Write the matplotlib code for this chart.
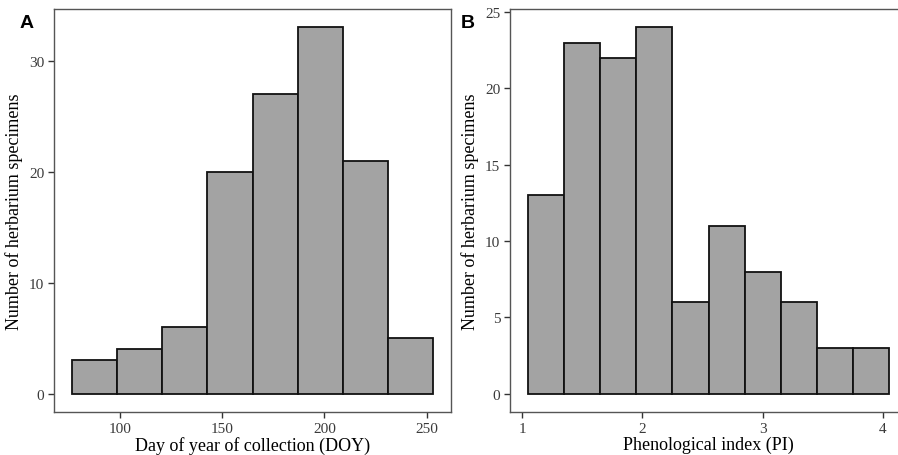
import numpy as np
import matplotlib.pyplot as plt

# histogram counts
doy_edges = [76.5, 98.57, 120.64, 142.71, 164.78, 186.85, 208.92, 230.99, 253.06]
doy_counts = [3, 4, 6, 20, 27, 33, 21, 5]

pi_edges = [1.05, 1.35, 1.65, 1.95, 2.25, 2.55, 2.85, 3.15, 3.45, 3.75, 4.05]
pi_counts = [13, 23, 22, 24, 6, 11, 8, 6, 3, 3]

ylab = "Number of herbarium specimens"
serif = ["Liberation Serif", "DejaVu Serif"]

fig = plt.figure(figsize=(8.98, 4.56), dpi=100)
axA = fig.add_axes([54/898, 43/456, 397/898, 403/456])
axB = fig.add_axes([510/898, 43/456, 397/898, 403/456])


def hist_panel(ax, edges, counts, xticks, yticks, xlabel):
    edges = np.asarray(edges)
    ax.bar(edges[:-1], counts, width=np.diff(edges), align="edge",
           color="#a3a3a3", edgecolor="#111111", linewidth=1.3)
    rng = edges[-1] - edges[0]
    ax.set_xlim(edges[0] - 0.05*rng, edges[-1] + 0.05*rng)
    top = max(counts)
    ax.set_ylim(-0.05*top, 1.05*top)
    ax.set_xticks(xticks)
    ax.set_yticks(yticks)
    for sp in ax.spines.values():
        sp.set_color("#555555")
        sp.set_linewidth(1.0)
    ax.tick_params(length=4, width=1.0, color="#333333", labelsize=11,
                   labelcolor="#3a3a3a", pad=3)
    for lab in ax.get_xticklabels() + ax.get_yticklabels():
        lab.set_family(serif)
    ax.set_xlabel(xlabel, fontsize=13, family=serif, color="black", labelpad=1)
    ax.set_ylabel(ylab, fontsize=13, family=serif, color="black", labelpad=4)


hist_panel(axA, doy_edges, doy_counts, [100, 150, 200, 250], [0, 10, 20, 30],
           "Day of year of collection (DOY)")
hist_panel(axB, pi_edges, pi_counts, [1, 2, 3, 4], [0, 5, 10, 15, 20, 25],
           "Phenological index (PI)")

fig.text(27/898, 1 - 23/456, "A", fontsize=14, fontweight="bold",
         family="Liberation Sans", ha="center", va="center")
fig.text(468/898, 1 - 23/456, "B", fontsize=14, fontweight="bold",
         family="Liberation Sans", ha="center", va="center")

fig.savefig("out.png", dpi=100)
